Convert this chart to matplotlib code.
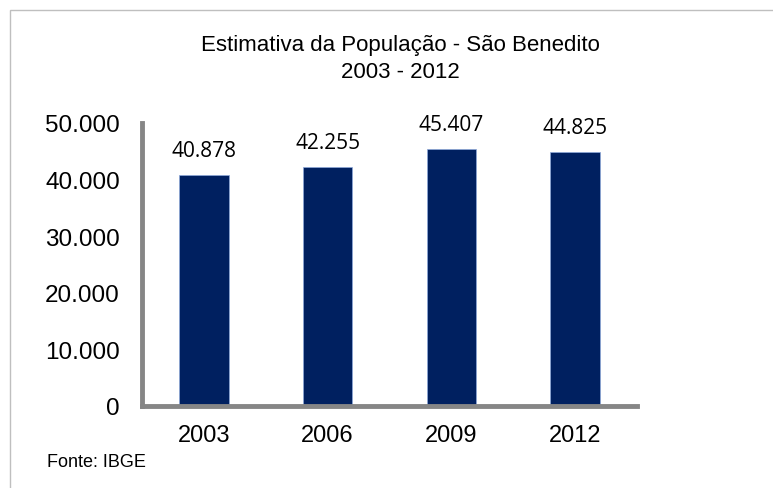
import matplotlib.pyplot as plt
from matplotlib.patches import Rectangle

anos = ["2003", "2006", "2009", "2012"]
populacao = [40878, 42255, 45407, 44825]
rotulos = ["40.878", "42.255", "45.407", "44.825"]
yticks = [0, 10000, 20000, 30000, 40000, 50000]
ytick_labels = ["0", "10.000", "20.000", "30.000", "40.000", "50.000"]

plt.rcParams['font.family'] = ['Liberation Sans', 'DejaVu Sans']

fig = plt.figure(figsize=(7.73, 4.89), dpi=100)
# moldura do grafico
fig.patches.append(Rectangle((10/773, -0.01), 1.0, 1 - 11/489 + 0.01, transform=fig.transFigure,
                             fill=False, edgecolor='#BFBFBF', linewidth=1))

ax = fig.add_axes([142/773, 1 - 407/489, 495/773, 283/489])
x = range(len(anos))
ax.bar(x, populacao, width=0.4, color='#002060', edgecolor='#8EA9DB', linewidth=0.5, zorder=2)
for i, v in enumerate(populacao):
    ax.annotate(rotulos[i], (i, v), xytext=(0, 17.5), textcoords='offset points',
                ha='center', va='center', fontsize=15, family=['Open Sans', 'DejaVu Sans'])

ax.set_xlim(-0.5, 3.5)
ax.set_ylim(0, 50000)
ax.set_xticks(list(x))
ax.set_xticklabels(anos, fontsize=17)
ax.set_yticks(yticks)
ax.set_yticklabels(ytick_labels, fontsize=17.5)
ax.tick_params(length=0)
ax.tick_params(axis='y', pad=16)
ax.tick_params(axis='x', pad=13)
for s in ['top', 'right']:
    ax.spines[s].set_visible(False)
for s in ['left', 'bottom']:
    ax.spines[s].set_color('#868686')
    ax.spines[s].set_linewidth(3.5)

fig.text(400/773, 1 - 45/489, "Estimativa da População - São Benedito", ha='center', va='center',
         fontsize=16, family=['Liberation Sans Narrow', 'Liberation Sans'])
fig.text(400/773, 1 - 73/489, "2003 - 2012", ha='center', va='center',
         fontsize=16, family=['Liberation Sans Narrow', 'Liberation Sans'])
fig.text(47/773, 1 - 463/489, "Fonte: IBGE", ha='left', va='center', fontsize=13)

fig.savefig("out.png", dpi=100)
